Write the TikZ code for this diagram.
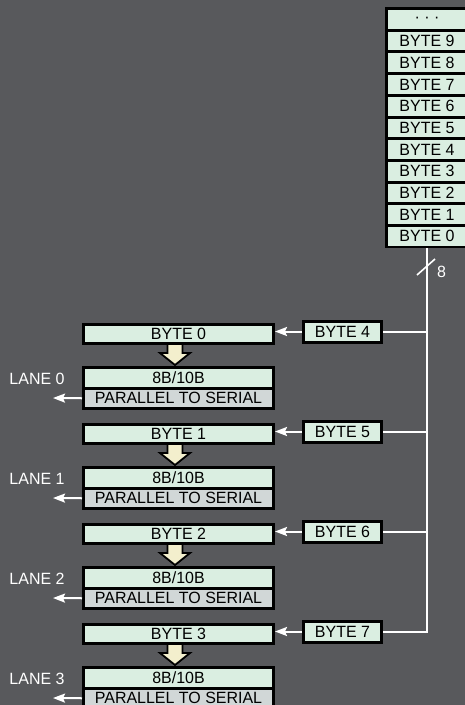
\documentclass[tikz,border=0pt]{standalone}
\usepackage{fontspec}
\setmainfont{Liberation Sans}
\newfontfamily\lblfont[FakeStretch=0.98]{Liberation Sans}
\usetikzlibrary{arrows.meta,calc}

\definecolor{bgcol}{RGB}{88,89,92}
\definecolor{cellgreen}{RGB}{218,238,225}
\definecolor{psgray}{RGB}{209,215,215}
\definecolor{arrowcream}{RGB}{243,239,205}

\tikzset{
  labelfont/.style={font=\lblfont\fontsize{16.3}{18}\selectfont},
  box/.style={draw=black, line width=3pt, fill=cellgreen, inner sep=0pt,
    text=black, labelfont},
  leftbox/.style={box, minimum width=190pt, minimum height=19pt},
  codebox/.style={box, minimum width=190pt, minimum height=20.5pt},
  psbox/.style={codebox, fill=psgray},
  rightbox/.style={box, minimum width=78pt, minimum height=21pt},
  cell/.style={fill=cellgreen, inner sep=0pt, minimum width=78pt,
    minimum height=18.7pt, text=black, labelfont},
  wire/.style={draw=white, line width=2pt},
  wirearrow/.style={wire, -{Stealth[length=12pt,width=9pt,inset=2pt]}},
  lanelabel/.style={text=white, labelfont, inner sep=0pt},
  downarrow/.pic={
    \draw[fill=arrowcream, draw=black, line width=1.8pt, line join=miter]
      (-7.5,0) -- (-7.5,10) -- (-15,10) -- (0,22) -- (15,10) -- (7.5,10) -- (7.5,0);
  }
}

\begin{document}
\begin{tikzpicture}[x=1pt,y=-1pt]
  \useasboundingbox (0,0) rectangle (465,705);
  \clip (0,0) rectangle (465,705);
  \fill[bgcol] (0,0) rectangle (465,705);

  % byte stack (memory) in the upper right corner
  \node[fill=black, inner sep=0pt, minimum width=85pt, minimum height=241pt,
    anchor=north west] (stack) at (385,7) {};
  \node[cell] (cell0) at (427,19.35) {· · ·};
  \foreach \k in {1,...,10} {
    \pgfmathtruncatemacro\n{10-\k}
    \node[cell] (cell\k) at (427,{19.35+21.7*\k}) {BYTE \n};
  }

  % lanes: byte register, 8B/10B encoder, serializer
  \foreach \i in {0,...,3} {
    \pgfmathsetmacro\dy{100*\i}
    \pgfmathtruncatemacro\j{\i+4}
    \pic at (175,{343+\dy}) {downarrow};
    \node[leftbox] (byte\i) at (178.5,{333.5+\dy}) {BYTE \i};
    \node[codebox] (code\i) at (178.5,{377.75+\dy}) {8B/10B};
    \node[psbox] (ps\i) at (178.5,{398.25+\dy}) {PARALLEL TO SERIAL};
    \node[lanelabel] (lane\i) at (37,{379+\dy}) {LANE \i};
    \coordinate (laneout\i) at (53,{398+\dy});
    \draw[wirearrow] (ps\i.west) -- (laneout\i);
    \node[rightbox] (rb\i) at (342.5,{331.5+\dy}) {BYTE \j};
    \draw[wirearrow] (rb\i.west) -- (rb\i.west -| byte\i.east);
  }

  % 8-bit bus from the stack down to the lane feeds
  \coordinate (bustop) at (427,248);
  \draw[wire] (bustop) |- (rb3.east);
  \foreach \i in {0,1,2} {
    \draw[wire] (rb\i.east) -- (rb\i.east -| bustop);
  }
  \draw[wire, line width=1.6pt] ($(bustop)+(-10,27)$) -- ($(bustop)+(8,11)$);
  \node[lanelabel] (buswidth) at (441.5,272) {8};
\end{tikzpicture}
\end{document}
